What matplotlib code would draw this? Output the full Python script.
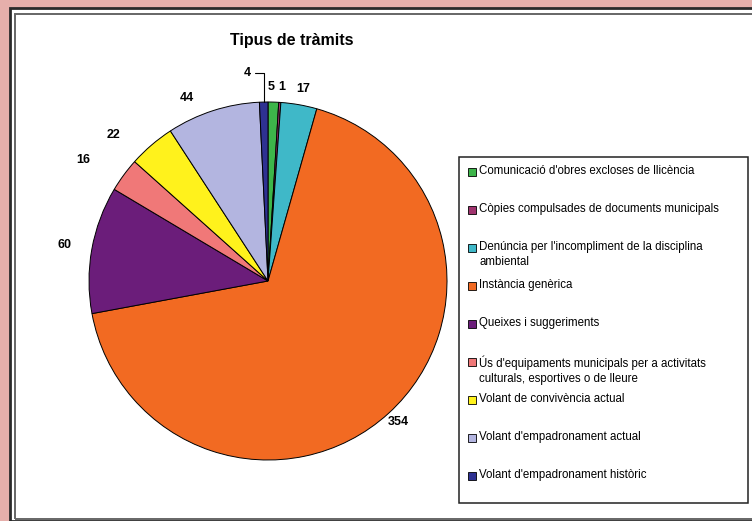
import numpy as np
import matplotlib.pyplot as plt
from matplotlib.patches import Rectangle

plt.rcParams['font.family'] = ['Liberation Sans', 'DejaVu Sans']

categories = [
    "Comunicació d'obres excloses de llicència",
    "Còpies compulsades de documents municipals",
    "Denúncia per l'incompliment de la disciplina\nambiental",
    "Instància genèrica",
    "Queixes i suggeriments",
    "Ús d'equipaments municipals per a activitats\nculturals, esportives o de lleure",
    "Volant de convivència actual",
    "Volant d'empadronament actual",
    "Volant d'empadronament històric",
]
values = [5, 1, 17, 354, 60, 16, 22, 44, 4]
colors = ['#3DB54A', '#A0336E', '#3FB8C8', '#F26A22', '#6B1D7A',
          '#F07878', '#FFF21C', '#B3B5E0', '#2E3192']

# label placement: radius factor and small angular nudge (deg, ccw)
label_r = [1.085, 1.087, 1.09, 1.075, 1.153, 1.235, 1.19, 1.12, None]
label_rot = [0.8, -0.3, -0.3, 0.4, 0, 3, 6, 6, 0]

W, H = 752, 521
fig = plt.figure(figsize=(W / 100, H / 100), dpi=100)
fig.patch.set_facecolor('#E6AFAB')

def px(x, y):
    return x / W, 1 - y / H

# white panel with double border
fig.patches.append(Rectangle(px(10, 521), 760 / W, 513 / H, transform=fig.transFigure,
                             facecolor='white', edgecolor='#2a2a2a', lw=2, zorder=-2))
fig.patches.append(Rectangle(px(15, 519), 760 / W, 505 / H, transform=fig.transFigure,
                             facecolor='none', edgecolor='#666666', lw=1.4, zorder=-1))

fig.text(*px(292, 40), 'Tipus de tràmits', ha='center', va='center',
         fontsize=11.5, fontweight='bold')

# pie
cx, cy, r = 268, 281, 179
ax = fig.add_axes([(cx - r) / W, (H - cy - r) / H, 2 * r / W, 2 * r / H])
ax.set_zorder(2)
wedges, _ = ax.pie(values, colors=colors, startangle=90, counterclock=False,
                   wedgeprops=dict(edgecolor='black', linewidth=0.7))
ax.set_xlim(-1, 1)
ax.set_ylim(-1, 1)
ax.axis('off')

for w, v, lr, rot in zip(wedges, values, label_r, label_rot):
    mid = np.deg2rad((w.theta1 + w.theta2) / 2 + rot)
    if lr is None:
        # small slice: label with leader line
        ex, ey = np.cos(mid), np.sin(mid)
        ax.annotate(str(v), xy=(ex, ey), xytext=(-12, 21), textcoords='offset points',
                    ha='center', va='center', fontsize=9, fontweight='bold',
                    annotation_clip=False,
                    arrowprops=dict(arrowstyle='-', color='black', lw=0.8,
                                    connectionstyle='angle,angleA=0,angleB=90,rad=0',
                                    shrinkA=1, shrinkB=0))
        continue
    ax.text(lr * np.cos(mid), lr * np.sin(mid), str(v), ha='center', va='center',
            fontsize=9, fontweight='bold')

# legend box
fig.patches.append(Rectangle(px(459, 503), 289 / W, 346 / H, transform=fig.transFigure,
                             facecolor='white', edgecolor='#222222', lw=1.1, zorder=1))
for i, (lab, c) in enumerate(zip(categories, colors)):
    yc = 172 + 38 * i
    fig.patches.append(Rectangle(px(468, yc + 4), 8 / W, 8 / H, transform=fig.transFigure,
                                 facecolor=c, edgecolor='black', lw=0.6, zorder=2))
    fig.text(*px(479, yc - 7), lab, ha='left', va='top', fontsize=8.3,
             linespacing=1.35, zorder=3)

fig.savefig('out.png', dpi=100, facecolor=fig.get_facecolor())
